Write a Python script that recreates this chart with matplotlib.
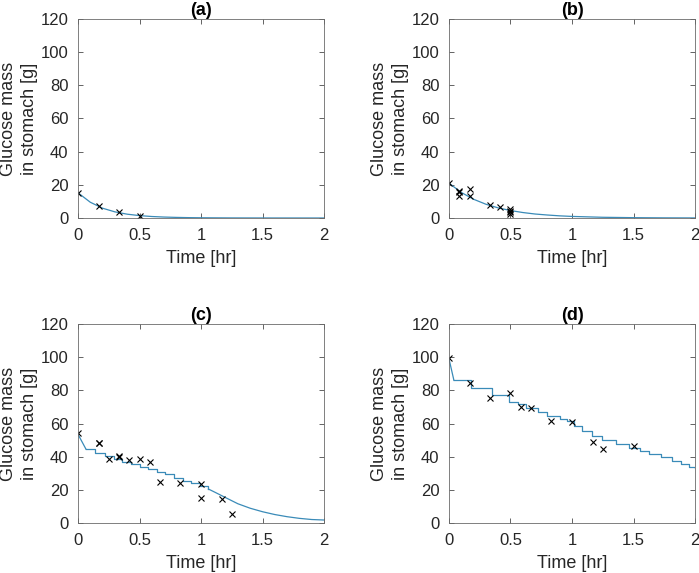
import matplotlib
matplotlib.use("Agg")
import matplotlib.pyplot as plt

plt.rcParams['font.family'] = ['Liberation Sans', 'DejaVu Sans']

# (a) data points and model curve
a_data_t = [0, 0.167, 0.333, 0.5]
a_data_v = [15, 7.5, 3.5, 1.5]
a_model_t = [0, 0.1, 0.2, 0.3, 0.4, 0.5, 0.6, 0.7, 0.8, 0.9, 1.0, 1.25, 1.5, 1.75, 2.0]
a_model_v = [15.2, 9.5, 5.9, 3.7, 2.3, 1.45, 0.9, 0.57, 0.36, 0.22, 0.14, 0.05, 0.02, 0.01, 0.0]

# (b)
b_data_t = [0, 0.083, 0.083, 0.083, 0.167, 0.167, 0.333, 0.417, 0.5, 0.5, 0.5, 0.5]
b_data_v = [21, 16.5, 15.5, 13, 17.5, 13, 8, 6.5, 5.5, 4.5, 3.5, 2.5]
b_model_t = [0, 0.1, 0.2, 0.3, 0.4, 0.5, 0.6, 0.7, 0.8, 0.9, 1.0, 1.25, 1.5, 1.75, 2.0]
b_model_v = [21, 15.4, 11.3, 8.3, 6.1, 4.5, 3.3, 2.4, 1.8, 1.3, 0.95, 0.43, 0.2, 0.09, 0.04]

# (c)
c_data_t = [0, 0.167, 0.167, 0.25, 0.333, 0.333, 0.417, 0.5, 0.583, 0.667, 0.833, 1.0, 1.0, 1.167, 1.25]
c_data_v = [54.5, 48.5, 48, 38.5, 40.5, 39.5, 38.2, 38.8, 37, 25, 24, 23.3, 14.8, 14.6, 5.3]
c_step_t = [0, 0.065, 0.14, 0.22, 0.29, 0.36, 0.43, 0.50, 0.57, 0.64, 0.71, 0.78, 0.85, 0.92, 0.99, 1.06]
c_step_v = [53.5, 44.5, 42.3, 40.2, 38.3, 36.8, 35.3, 33.8, 32.3, 30.8, 29.3, 27.0, 25.5, 24.0, 22.5, 20.5]
c_tail_t = [1.06, 1.12, 1.2, 1.3, 1.4, 1.5, 1.6, 1.7, 1.8, 1.9, 2.0]
c_tail_v = [20.5, 18.3, 15.3, 11.6, 8.9, 6.8, 5.1, 3.8, 2.8, 2.1, 1.8]

# (d)
d_data_t = [0, 0.167, 0.333, 0.5, 0.583, 0.667, 0.833, 1.0, 1.167, 1.25, 1.5]
d_data_v = [99.3, 84.6, 75.6, 78.2, 70.2, 69.2, 61.5, 61.1, 49.0, 44.8, 46.6]
d_step_t = [0, 0.04, 0.18, 0.35, 0.49, 0.56, 0.63, 0.72, 0.80, 0.90, 0.96, 1.02, 1.08, 1.16,
            1.24, 1.36, 1.46, 1.55, 1.63, 1.72, 1.81, 1.89, 1.95, 2.0]
d_step_v = [99, 86, 81.5, 77, 73, 71.5, 69.5, 67, 64.5, 62.5, 61.5, 58.5, 55.5, 52.5,
            50, 47.5, 45.5, 43.5, 41.5, 39.5, 37.5, 35.5, 33.5, 33]

line_color = "#3a8bb8"
axis_color = "#262626"
W, H = 699, 573

fig = plt.figure(figsize=(W / 100, H / 100), dpi=100)


def make_axes(left, top, right, bottom, title):
  ax = fig.add_axes([left / W, 1 - bottom / H, (right - left) / W, (bottom - top) / H])
  ax.set_xlim(0, 2)
  ax.set_ylim(0, 120)
  ax.set_xticks([0, 0.5, 1, 1.5, 2])
  ax.set_xticklabels(["0", "0.5", "1", "1.5", "2"])
  ax.set_yticks(range(0, 121, 20))
  ax.tick_params(direction="in", top=True, right=True, length=3.5, width=0.5,
                 colors=axis_color, labelsize=12, pad=7)
  for s in ax.spines.values():
    s.set_linewidth(0.6)
    s.set_color("#6a6a6a")
  ax.set_xlabel("Time [hr]", fontsize=13, color=axis_color, labelpad=5)
  ax.set_ylabel("Glucose mass\nin stomach [g]", fontsize=13, color=axis_color,
                labelpad=2, linespacing=1.25)
  ax.set_title(title, fontsize=13, fontweight="bold", color="black", pad=3)
  return ax


ax_a = make_axes(78, 19, 324, 218, "(a)")
ax_a.plot(a_model_t, a_model_v, color=line_color, lw=0.9)
ax_a.plot(a_data_t, a_data_v, "x", color="black", ms=4.8, mew=0.8)

ax_b = make_axes(449, 19, 695, 218, "(b)")
ax_b.plot(b_model_t, b_model_v, color=line_color, lw=0.9)
ax_b.plot(b_data_t, b_data_v, "x", color="black", ms=4.8, mew=0.8)

ax_c = make_axes(78, 324, 324, 523, "(c)")
ax_c.plot(c_step_t[:2], c_step_v[:2], color=line_color, lw=0.9)
ax_c.plot(c_step_t[1:], c_step_v[1:], color=line_color, lw=0.9, drawstyle="steps-post")
ax_c.plot(c_tail_t, c_tail_v, color=line_color, lw=0.9)
ax_c.plot(c_data_t, c_data_v, "x", color="black", ms=4.8, mew=0.8)

ax_d = make_axes(449, 324, 695, 523, "(d)")
ax_d.plot(d_step_t[:2], d_step_v[:2], color=line_color, lw=0.9)
ax_d.plot(d_step_t[1:], d_step_v[1:], color=line_color, lw=0.9, drawstyle="steps-post")
ax_d.plot(d_data_t, d_data_v, "x", color="black", ms=4.8, mew=0.8)

fig.savefig("out.png", dpi=100)
